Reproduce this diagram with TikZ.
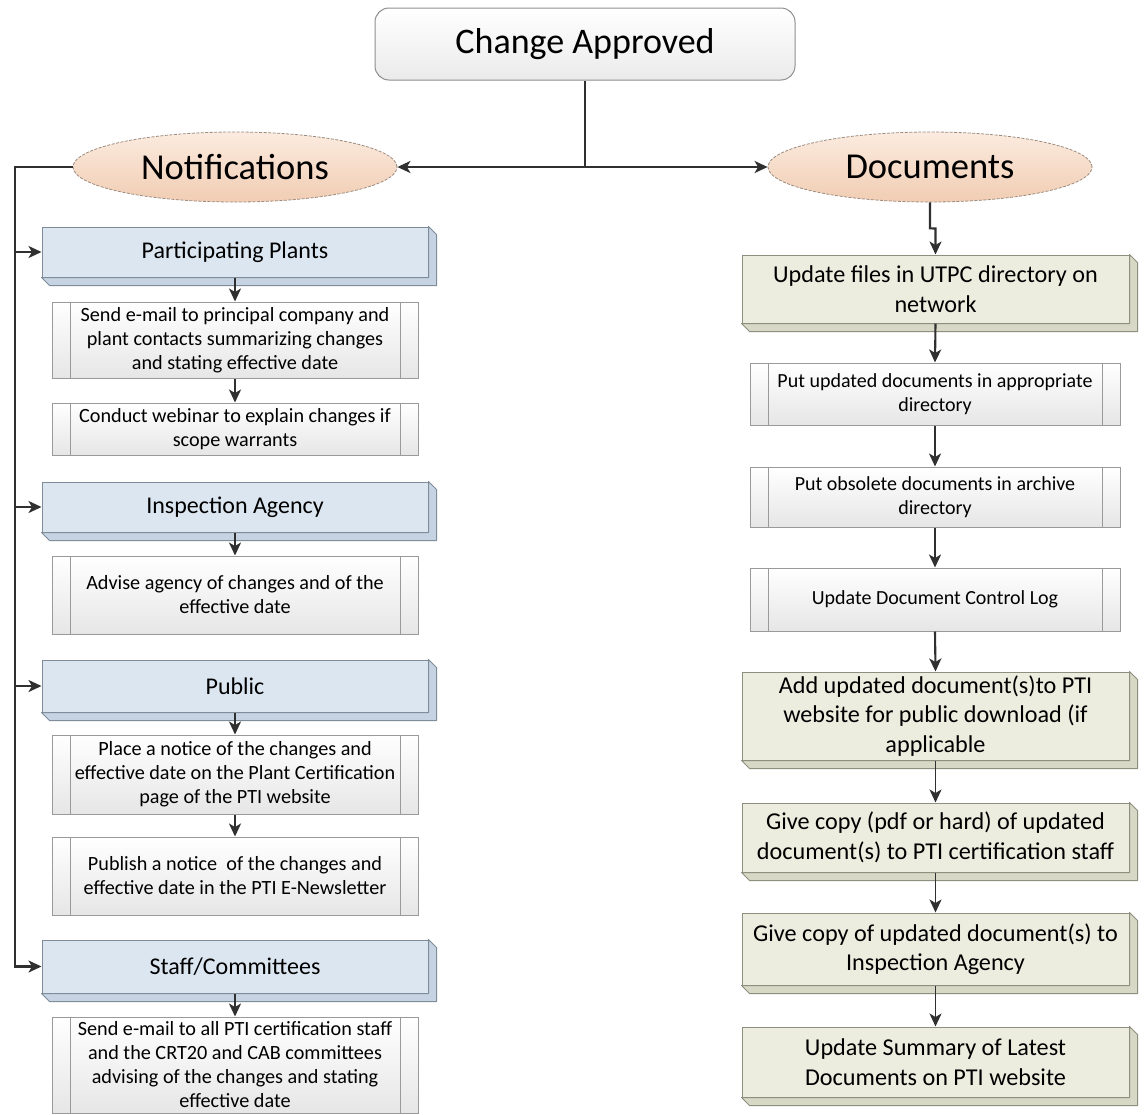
\documentclass[tikz,border=0pt]{standalone}
\usepackage{fontspec}
\setmainfont{Carlito}
\usetikzlibrary{arrows.meta,calc,shapes.geometric}

\definecolor{ink}{HTML}{303030}
\definecolor{boxgray}{HTML}{8E8E8E}
\definecolor{ovaledge}{HTML}{9C8C80}
\definecolor{peachlight}{HTML}{FBEBDF}
\definecolor{peach}{HTML}{F1CDB3}
\definecolor{bluefill}{HTML}{DCE6F1}
\definecolor{blueside}{HTML}{C6D3E2}
\definecolor{blueedge}{HTML}{7F8C99}
\definecolor{greenfill}{HTML}{ECECDF}
\definecolor{greenside}{HTML}{D8D8C6}
\definecolor{greenedge}{HTML}{8F8F80}
\definecolor{procfill}{HTML}{E6E6E6}
\definecolor{procedge}{HTML}{9A9A9A}

% bottom/right extrusion of a raised box
\newcommand\slabface[3]{%
  \draw[draw=#2,fill=#3,line width=1pt,line join=round]
    (#1.south west) -- ++(8,8) -| ([shift={(8pt,-8pt)}]#1.north east)
    -- (#1.north east) -- (#1.south east) -- cycle;}

\begin{document}
\begin{tikzpicture}[x=1pt,y=-1pt,
  conn/.style={draw=ink,line width=2.1pt},
  arr/.style={conn,-{Stealth[length=13pt,width=12pt,inset=3.5pt]}},
  thinarr/.style={arr,line width=1.6pt},
  topbox/.style={rectangle,rounded corners=14pt,draw=boxgray,line width=1pt,
    top color=white,bottom color=black!8,minimum width=420pt,minimum height=72pt,
    inner sep=0pt,font=\fontsize{36}{40}\selectfont},
  oval/.style={ellipse,draw=ovaledge,line width=0.8pt,dash pattern=on 3pt off 1.5pt,
    top color=peachlight,bottom color=peach,minimum width=324pt,minimum height=70pt,
    inner sep=0pt,font=\fontsize{36.5}{40}\selectfont},
  bluehead/.style={rectangle,draw=blueedge,line width=1pt,fill=bluefill,
    minimum width=386pt,inner sep=0pt,font=\fontsize{24}{28}\selectfont},
  greenstep/.style={rectangle,draw=greenedge,line width=1pt,fill=greenfill,
    minimum width=387pt,inner sep=0pt,align=center,font=\fontsize{24.2}{29.5}\selectfont},
  proc/.style={rectangle,draw=procedge,line width=1pt,top color=white,bottom color=procfill,
    inner sep=0pt,align=center,
    path picture={\draw[draw=procedge,line width=1pt]
      ([xshift=18pt]path picture bounding box.north west) -- ([xshift=18pt]path picture bounding box.south west)
      ([xshift=-18pt]path picture bounding box.north east) -- ([xshift=-18pt]path picture bounding box.south east);}},
  leftproc/.style={proc,minimum width=366pt,font=\fontsize{20.2}{24}\selectfont},
  rightproc/.style={proc,minimum width=370pt,font=\fontsize{20}{23.5}\selectfont},
]
\useasboundingbox[fill=white] (0,0) rectangle (1145,1114);

% top of the tree
\node[topbox] (ca) at (585,44) {Change Approved};
\node[oval] (notif) at (235,167) {Notifications};
\node[oval] (docs) at (930,167) {Documents};
\coordinate (split) at (585,167);
\coordinate (bus) at (15,167);

% notifications column
\node[bluehead,minimum height=50pt] (pp) at (235,252) {Participating Plants};
\node[leftproc,minimum height=76pt] (pp1) at (235,340)
  {Send e-mail to principal company and\\plant contacts summarizing changes\\and stating effective date};
\node[leftproc,minimum height=52pt] (pp2) at (235,429)
  {Conduct webinar to explain changes if\\scope warrants};
\node[bluehead,minimum height=50pt] (ia) at (235,507) {Inspection Agency};
\node[leftproc,minimum height=78pt] (ia1) at (235,595)
  {Advise agency of changes and of the\\effective date};
\node[bluehead,minimum height=52pt] (pub) at (235,686) {Public};
\node[leftproc,minimum height=79pt] (pub1) at (235,774.5)
  {Place a notice of the changes and\\effective date on the Plant Certification\\page of the PTI website};
\node[leftproc,minimum height=78pt] (pub2) at (235,876)
  {Publish a notice\ \ of the changes and\\effective date in the PTI E-Newsletter};
\node[bluehead,minimum height=53pt] (sc) at (235,966.5) {Staff/Committees};
\node[leftproc,minimum height=96pt] (sc1) at (235,1065)
  {Send e-mail to all PTI certification staff\\and the CRT20 and CAB committees\\advising of the changes and stating\\effective date};

\foreach \n in {pp,ia,pub,sc} {\slabface{\n}{blueedge}{blueside}}

% documents column
\node[greenstep,minimum height=68pt] (uf) at (935.5,289)
  {Update files in UTPC directory on\\network};
\node[rightproc,minimum height=62pt] (pu) at (935,394)
  {Put updated documents in appropriate\\directory};
\node[rightproc,minimum height=60pt] (po) at (935,497)
  {Put obsolete documents in archive\\directory};
\node[rightproc,minimum height=63pt] (dcl) at (935,599.5)
  {Update Document Control Log};
\node[greenstep,minimum height=88pt] (add) at (935.5,716)
  {Add updated document(s)to PTI\\website for public download (if\\applicable};
\node[greenstep,minimum height=69pt] (gc1) at (935.5,837.5)
  {Give copy (pdf or hard) of updated\\document(s) to PTI certification staff};
\node[greenstep,minimum height=72pt] (gc2) at (935.5,949)
  {Give copy of updated document(s) to\\Inspection Agency};
\node[greenstep,minimum height=70pt] (us) at (935.5,1062)
  {Update Summary of Latest\\Documents on PTI website};

\foreach \n in {uf,add,gc1,gc2,us} {\slabface{\n}{greenedge}{greenside}}

% connectors
\draw[conn] (ca.south) -- (split);
\draw[arr] (split) -- (notif.east);
\draw[arr] (split) -- (docs.west);

\draw[arr] (notif.west) -- (bus) |- (sc.west);
\foreach \n in {pp,ia,pub} {\draw[arr] (bus |- \n.west) -- (\n.west);}

\draw[arr] (pp.south) -- (pp1.north);
\draw[arr] (pp1.south) -- (pp2.north);
\draw[arr] (ia.south) -- (ia1.north);
\draw[arr] (pub.south) -- (pub1.north);
\draw[arr] (pub1.south) -- (pub2.north);
\draw[arr] (sc.south) -- (sc1.north);

\draw[arr] (docs.south) -- ++(0,26) -- ([yshift=26pt]uf.north) -- (uf.north);
\draw[arr] (uf.south) -- (pu.north);
\draw[arr] (pu.south) -- (po.north);
\draw[arr] (po.south) -- (dcl.north);
\draw[arr] (dcl.south) -- (add.north);
\draw[thinarr] (add.south) -- (gc1.north);
\draw[thinarr] (gc1.south) -- (gc2.north);
\draw[thinarr] (gc2.south) -- (us.north);
\end{tikzpicture}
\end{document}
